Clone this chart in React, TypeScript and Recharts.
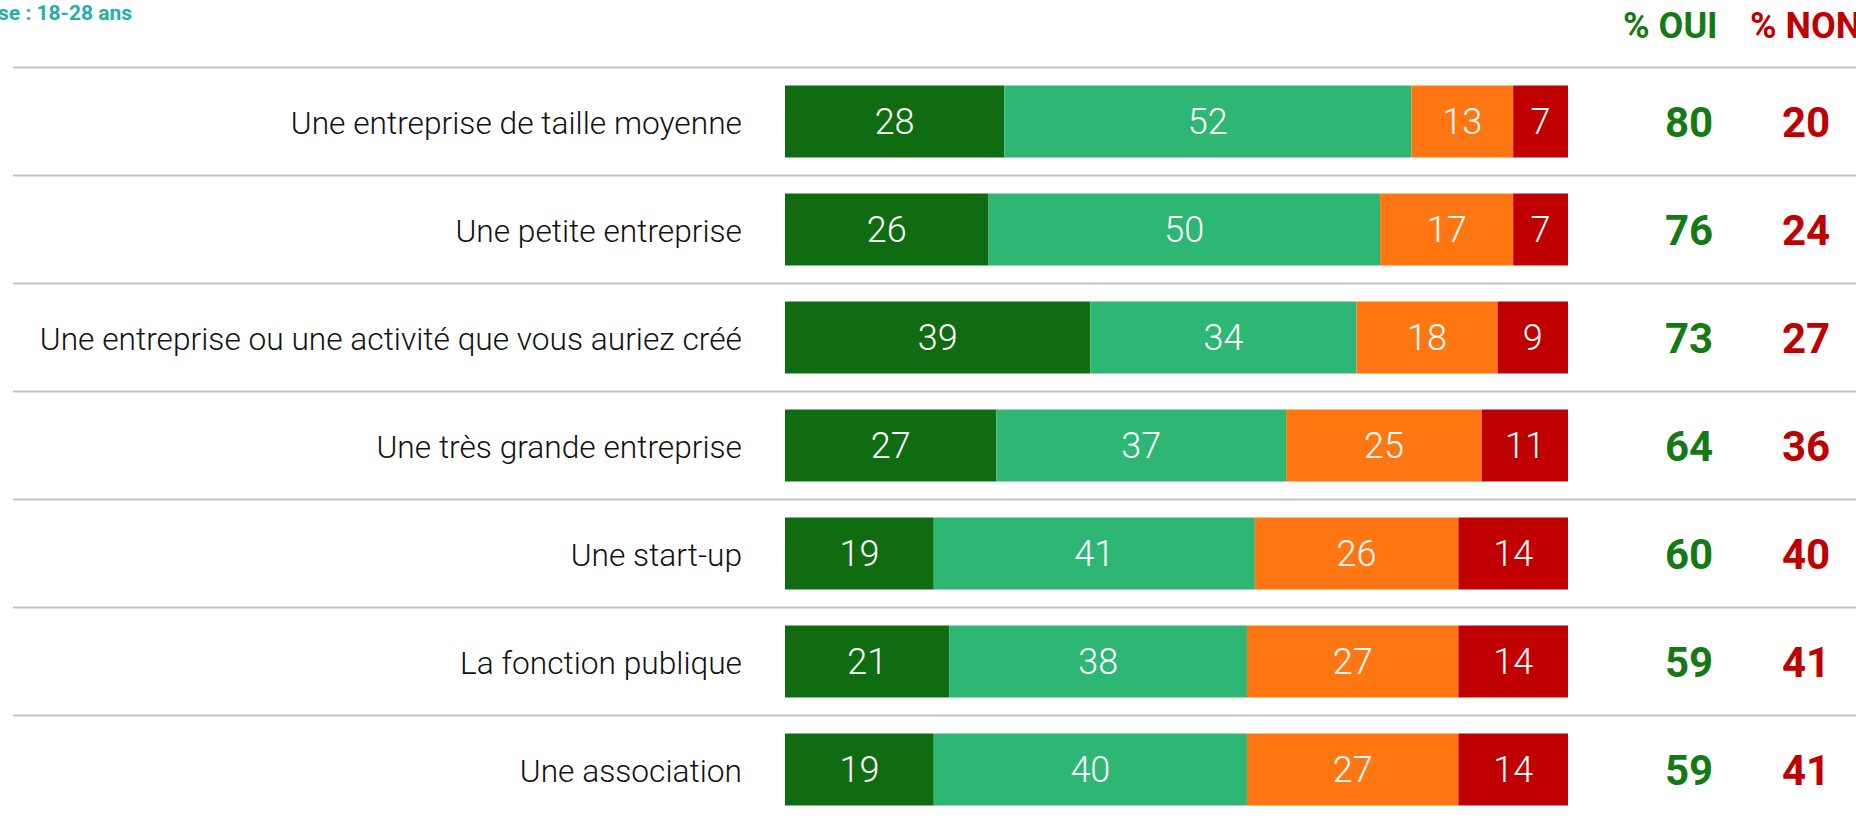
import { BarChart, Bar, XAxis, YAxis, LabelList } from 'recharts';

const categories = [
  'Une entreprise de taille moyenne',
  'Une petite entreprise',
  'Une entreprise ou une activité que vous auriez créé',
  'Une très grande entreprise',
  'Une start-up',
  'La fonction publique',
  'Une association',
];
const ouiToutAFait = [28, 26, 39, 27, 19, 21, 19];
const ouiPlutot = [52, 50, 34, 37, 41, 38, 40];
const nonPlutotPas = [13, 17, 18, 25, 26, 27, 27];
const nonPasDuTout = [7, 7, 9, 11, 14, 14, 14];
const totalOui = [80, 76, 73, 64, 60, 59, 59];
const totalNon = [20, 24, 27, 36, 40, 41, 41];

const data = categories.map((name, i) => ({
  name,
  ouiToutAFait: ouiToutAFait[i],
  ouiPlutot: ouiPlutot[i],
  nonPlutotPas: nonPlutotPas[i],
  nonPasDuTout: nonPasDuTout[i],
}));

const FONT = 'Roboto, sans-serif';
const GREEN_DARK = '#0f6c10';
const GREEN_LIGHT = '#2eb674';
const ORANGE = '#ff7712';
const RED = '#c00000';
const ROW = 108;

function LeftTick(props: any) {
  const { y, payload } = props;
  return (
    <g>
      <line x1={13} x2={1856} y1={y - ROW / 2} y2={y - ROW / 2} stroke="#c4c4c4" strokeWidth={2} />
      <text x={742} y={y + 12} textAnchor="end" fontFamily={FONT} fontSize={31.7} fontWeight={300} fill="#111">
        {payload.value}
      </text>
    </g>
  );
}

function RightTick(props: any) {
  const { y, index } = props;
  return (
    <g fontFamily={FONT} fontSize={42} fontWeight={700}>
      <text x={1689} y={y + 15} textAnchor="middle" fill="#157a15">{totalOui[index]}</text>
      <text x={1806} y={y + 15} textAnchor="middle" fill={RED}>{totalNon[index]}</text>
    </g>
  );
}

const barLabel = { fill: '#fff', fontSize: 36, fontWeight: 300, fontFamily: FONT };

export default function App() {
  return (
    <div style={{ position: 'absolute', left: 0, top: 0, width: 1856, height: 816, overflow: 'hidden', background: '#fff' }}>
      <svg width={1856} height={70} style={{ position: 'absolute', left: 0, top: 0 }}>
        <text x={132} y={19.5} textAnchor="end" fontFamily={FONT} fontSize={21} fontWeight={700} fill="#1fb0a8">
          Base : 18-28 ans
        </text>
        <text x={1623} y={38} fontFamily={FONT} fontSize={36} fontWeight={700} fill="#157a15">% OUI</text>
        <text x={1750} y={38} fontFamily={FONT} fontSize={36} fontWeight={700} fill={RED}>% NON</text>
      </svg>
      <div style={{ position: 'absolute', left: 0, top: 0 }}>
        <BarChart
          width={1856}
          height={830}
          data={data}
          layout="vertical"
          margin={{ top: 67.5, right: 0, bottom: 6.5, left: 0 }}
          barSize={72}
        >
          <XAxis type="number" domain={[0, 100]} hide />
          <YAxis
            yAxisId="left"
            type="category"
            dataKey="name"
            width={785}
            axisLine={false}
            tickLine={false}
            tick={<LeftTick />}
            interval={0}
          />
          <YAxis
            yAxisId="right"
            orientation="right"
            type="category"
            dataKey="name"
            width={288}
            axisLine={false}
            tickLine={false}
            tick={<RightTick />}
            interval={0}
          />
          <Bar yAxisId="left" dataKey="ouiToutAFait" stackId="a" fill={GREEN_DARK} isAnimationActive={false}>
            <LabelList dataKey="ouiToutAFait" position="center" style={barLabel} />
          </Bar>
          <Bar yAxisId="left" dataKey="ouiPlutot" stackId="a" fill={GREEN_LIGHT} isAnimationActive={false}>
            <LabelList dataKey="ouiPlutot" position="center" style={barLabel} />
          </Bar>
          <Bar yAxisId="left" dataKey="nonPlutotPas" stackId="a" fill={ORANGE} isAnimationActive={false}>
            <LabelList dataKey="nonPlutotPas" position="center" style={barLabel} />
          </Bar>
          <Bar yAxisId="left" dataKey="nonPasDuTout" stackId="a" fill={RED} isAnimationActive={false}>
            <LabelList dataKey="nonPasDuTout" position="center" style={barLabel} />
          </Bar>
        </BarChart>
      </div>
    </div>
  );
}
